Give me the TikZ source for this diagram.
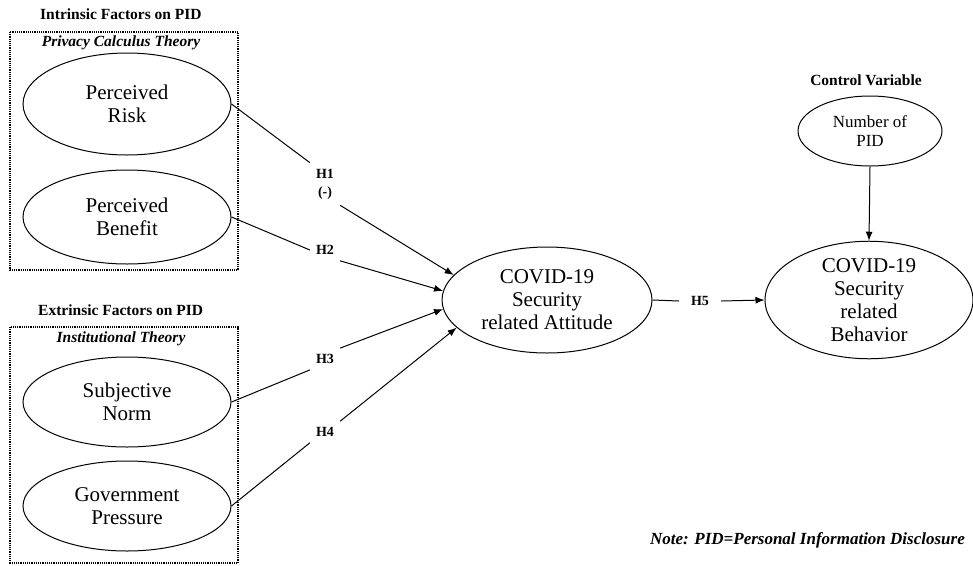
\documentclass[tikz,border=0pt]{standalone}
\usepackage{fontspec}
\setmainfont{Liberation Serif}
\usetikzlibrary{shapes.geometric}
\usetikzlibrary{arrows.meta}

\begin{document}
\begin{tikzpicture}[x=1pt,y=-1pt,
    factor/.style={draw,ellipse,line width=1pt,minimum width=208pt,minimum height=96pt,inner sep=0pt,align=center,font=\fontsize{21}{23}\selectfont},
    hyp/.style={inner sep=6pt,align=center,font=\fontsize{14}{18}\selectfont\bfseries},
    heading/.style={inner sep=0pt,font=\fontsize{15.5}{18}\selectfont\bfseries},
    theory/.style={inner sep=0pt,font=\fontsize{15.5}{18}\selectfont\bfseries\itshape},
    dotbox/.style={densely dotted,line width=1.2pt},
    link/.style={line width=1pt},
    effect/.style={line width=1pt,-{Latex[length=9pt,width=7pt]}}]
    \useasboundingbox (0,0) rectangle (973,565);
    \node[heading,anchor=west] (intr) at (40,14) {Intrinsic Factors on PID};
    \node[theory] (pct) at (121,43) {Privacy Calculus Theory};
    \draw[dotbox] (10,32) rectangle (238,270);
    \node[heading,anchor=west] (extr) at (38,310) {Extrinsic Factors on PID};
    \node[theory] (inst) at (121,339) {Institutional Theory};
    \draw[dotbox] (10,327) rectangle (238,563);
    \foreach \n/\y/\h/\t in {risk/104/102/{Perceived\\Risk},benefit/217/94/{Perceived\\Benefit},
                             norm/402/90/{Subjective\\Norm},gov/506/90/{Government\\Pressure}}
        \node[factor,minimum height=\h pt] (\n) at (127,\y) {\t};
    \node[factor,minimum width=210pt,minimum height=106pt] (att) at (547,300) {COVID-19\\Security\\related Attitude};
    \node[factor,minimum width=208pt,minimum height=106pt] (beh) at (869,300) {COVID-19\\Security\\related\\Behavior};
    \node[heading] (ctrl) at (866,80) {Control Variable};
    \node[factor,minimum width=144pt,minimum height=70pt,font=\fontsize{17}{19}\selectfont] (num) at (870,131) {Number of\\PID};
    \node[hyp] (h1) at (325,184) {H1\\(-)};
    \node[hyp] (h2) at (325,250) {H2};
    \node[hyp] (h3) at (325,359) {H3};
    \node[hyp] (h4) at (325,432) {H4};
    \node[hyp,inner xsep=12pt] (h5) at (700,301) {H5};
    \foreach \a/\h/\s/\e/\ang in {risk/h1/north west/south east/165,benefit/h2/west/south east/175,
                                  norm/h3/south west/north east/185,gov/h4/south west/north east/197}{
        \draw[link] (\a.east) -- (\h.\s);
        \draw[effect] (\h.\e) -- (att.\ang);
    }
    \draw[link] (att.east) -- (h5.west);
    \draw[effect] (h5.east) -- (beh.west);
    \draw[effect] (num.south) -- (beh.north);
    \node[theory,anchor=east,font=\fontsize{17}{19}\selectfont\bfseries\itshape] (note) at (965,540) {Note: PID=Personal Information Disclosure};
\end{tikzpicture}
\end{document}
